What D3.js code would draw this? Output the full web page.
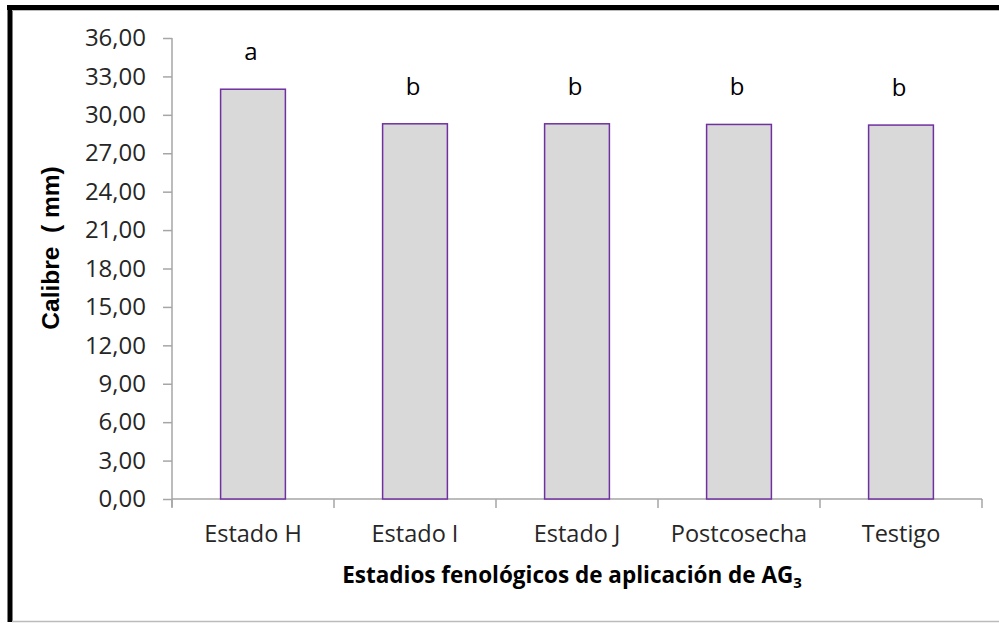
<!DOCTYPE html>
<html>
<head>
<meta charset="utf-8">
<script src="https://cdn.jsdelivr.net/npm/d3@7"></script>
<style>
  body { margin: 0; background: #fff; }
  svg { display: block; font-family: "Open Sans", sans-serif; }
</style>
</head>
<body>
<div id="chart"></div>
<script>
// categories and mean calibre (mm)
var estadios = ["Estado H", "Estado I", "Estado J", "Postcosecha", "Testigo"];
var calibre = [32.0, 29.3, 29.3, 29.25, 29.2];
var letras = ["a", "b", "b", "b", "b"];
var yTicks = [0, 3, 6, 9, 12, 15, 18, 21, 24, 27, 30, 33, 36];

const w = 999;
const h = 623;
const pLeft = 172, pRight = 982, pTop = 38, pBottom = 499;

const svg = d3.select("#chart").append("svg")
  .attr("width", w)
  .attr("height", h);

// frame
svg.append("line").attr("x1", 7).attr("x2", w).attr("y1", 7.5).attr("y2", 7.5)
  .attr("stroke", "#000").attr("stroke-width", 5);
svg.append("line").attr("x1", 10).attr("x2", 10).attr("y1", 5).attr("y2", 622)
  .attr("stroke", "#000").attr("stroke-width", 5);
svg.append("line").attr("x1", 12).attr("x2", w).attr("y1", 10.5).attr("y2", 10.5)
  .attr("stroke", "#bbb").attr("stroke-width", 1);
svg.append("line").attr("x1", 12).attr("x2", w).attr("y1", 621.5).attr("y2", 621.5)
  .attr("stroke", "#bbb").attr("stroke-width", 1.5);

const x = d3.scaleBand()
  .domain(estadios)
  .range([pLeft, pRight])
  .paddingInner(0.6)
  .paddingOuter(0.3);

// band boundaries for ticks
const step = (pRight - pLeft) / estadios.length;

const y = d3.scaleLinear()
  .domain([0, 36])
  .range([pBottom, pTop]);

// y axis
const yAxis = d3.axisLeft(y)
  .tickValues(yTicks)
  .tickSize(9)
  .tickPadding(17)
  .tickFormat(d => d3.format(".2f")(d).replace(".", ","));

const gy = svg.append("g")
  .attr("transform", "translate(" + pLeft + ",0)")
  .call(yAxis);
gy.select(".domain").remove();
gy.append("line").attr("x1", 0).attr("x2", 0).attr("y1", pTop).attr("y2", pBottom + 8)
  .attr("stroke", "#a6a6a6").attr("stroke-width", 1.5);
gy.selectAll(".tick line").attr("stroke", "#a6a6a6").attr("stroke-width", 1.5);
gy.selectAll(".tick text")
  .attr("fill", "#262626")
  .style("font-size", "24px")
  .style("font-family", "Open Sans, sans-serif");

// x axis line and boundary ticks
svg.append("line").attr("x1", pLeft).attr("x2", pRight).attr("y1", pBottom).attr("y2", pBottom)
  .attr("stroke", "#a6a6a6").attr("stroke-width", 1.5);
svg.selectAll(".xtick")
  .data(d3.range(estadios.length + 1))
  .enter().append("line")
  .attr("class", "xtick")
  .attr("x1", i => pLeft + i * step).attr("x2", i => pLeft + i * step)
  .attr("y1", pBottom).attr("y2", pBottom + 9)
  .attr("stroke", "#a6a6a6").attr("stroke-width", 1.5);

svg.selectAll(".xlab")
  .data(estadios)
  .enter().append("text")
  .attr("class", "xlab")
  .attr("x", d => x(d) + x.bandwidth() / 2)
  .attr("y", 542)
  .attr("text-anchor", "middle")
  .attr("fill", "#262626")
  .style("font-size", "23.5px")
  .text(d => d);

// bars
svg.selectAll("rect.bar")
  .data(calibre)
  .enter().append("rect")
  .attr("class", "bar")
  .attr("x", (d, i) => x(estadios[i]))
  .attr("y", d => y(d))
  .attr("width", x.bandwidth())
  .attr("height", d => pBottom - y(d))
  .attr("fill", "#d9d9d9")
  .attr("stroke", "#7030a0")
  .attr("stroke-width", 1.5);

// significance letters
svg.selectAll(".letra")
  .data(letras)
  .enter().append("text")
  .attr("class", "letra")
  .attr("x", (d, i) => x(estadios[i]) + x.bandwidth() / 2 - 2)
  .attr("y", (d, i) => y(calibre[i]) - 29)
  .attr("text-anchor", "middle")
  .attr("fill", "#000")
  .style("font-size", "24px")
  .text(d => d);

// axis titles
const xt = svg.append("text")
  .attr("x", 572)
  .attr("y", 583)
  .attr("text-anchor", "middle")
  .attr("fill", "#000")
  .style("font-size", "22.5px")
  .style("font-weight", "bold");
xt.append("tspan").text("Estadios fenológicos de aplicación de AG");
xt.append("tspan").attr("dy", 5).style("font-size", "15px").text("3");

svg.append("text")
  .attr("transform", "translate(59,248) rotate(-90)")
  .attr("text-anchor", "middle")
  .attr("fill", "#000")
  .style("font-size", "24.5px")
  .style("font-weight", "bold")
  .style("white-space", "pre")
  .style("font-family", "Liberation Sans, Arial, sans-serif")
  .text("Calibre  ( mm)");
</script>
</body>
</html>
